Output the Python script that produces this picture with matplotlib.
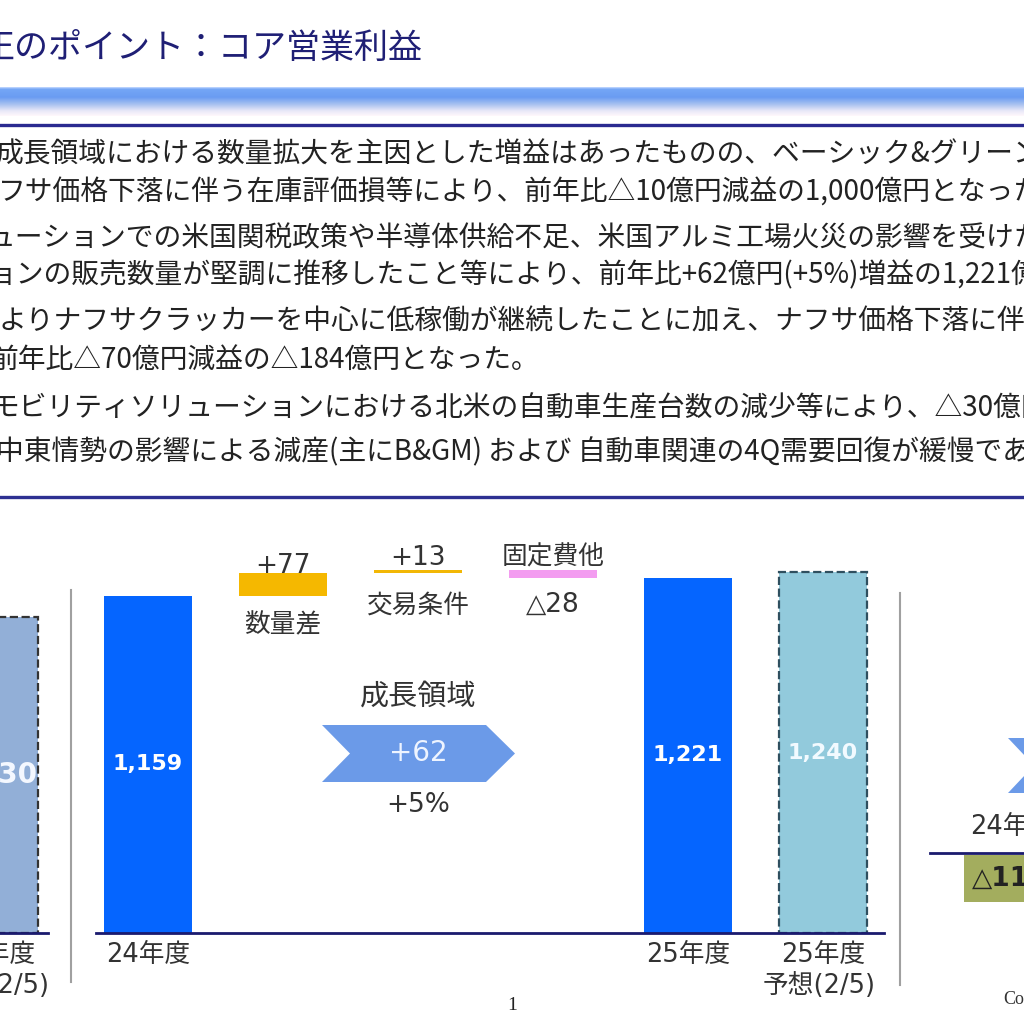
import numpy as np
import matplotlib
matplotlib.use('Agg')
import matplotlib.pyplot as plt
from matplotlib.patches import Polygon
from matplotlib.colors import LinearSegmentedColormap

plt.rcParams['font.family'] = ['Noto Sans CJK JP', 'DejaVu Sans']
NUM_FONT = ['DejaVu Sans', 'Noto Sans CJK JP']

# slide text
title = '正のポイント：コア営業利益'
bullet_lines = [
    '成長領域における数量拡大を主因とした増益はあったものの、ベーシック&グリーンマテリアル',
    'フサ価格下落に伴う在庫評価損等により、前年比△10億円減益の1,000億円となった。',
    'ューションでの米国関税政策や半導体供給不足、米国アルミ工場火災の影響を受けた販売',
    'ョンの販売数量が堅調に推移したこと等により、前年比+62億円(+5%)増益の1,221億円',
    'よりナフサクラッカーを中心に低稼働が継続したことに加え、ナフサ価格下落に伴う在庫評価',
    '前年比△70億円減益の△184億円となった。',
    'モビリティソリューションにおける北米の自動車生産台数の減少等により、△30億円程度',
    '中東情勢の影響による減産(主にB&GM) および 自動車関連の4Q需要回復が緩慢であ',
]

# chart values (億円)
fy24 = 1159
fy25 = 1221
fy25_plan = 1240
step_names = ['数量差', '交易条件', '固定費他']
step_values = [77, 13, -28]
growth_name = '成長領域'
growth_delta = 62
growth_pct = 5
left_value = 1230
left_labels = ['25年度', '予想(2/5)']
main_labels = ['24年度', '25年度', '25年度']
right_caption = '24年度比'
right_delta = '△11'


def fmt(v):
    return '+%d' % v if v > 0 else '△%d' % (-v)


fig = plt.figure(figsize=(10.24, 10.24), dpi=100)
fig.patch.set_facecolor('white')

# bar axes, value 0 sits on the baseline at y=933px
base_px = 933
px_per_unit = 0.291
ax = fig.add_axes([0, (1024 - base_px) / 1024, 1, base_px / 1024], zorder=1)
ax.set_xlim(0, 1024)
ax.set_ylim(0, base_px / px_per_unit)
ax.axis('off')

# left panel uses its own scale
axl = fig.add_axes([0, (1024 - base_px) / 1024, 1, base_px / 1024], zorder=1)
axl.set_xlim(0, 1024)
axl.set_ylim(0, base_px / (316 / left_value))
axl.axis('off')

# pixel overlay for decorations and text
bg = fig.add_axes([0, 0, 1, 1], zorder=2)
bg.patch.set_alpha(0)

# header band
grad = np.linspace(0, 1, 200).reshape(-1, 1)
cmap = LinearSegmentedColormap.from_list('band', [
    (0.0, '#C8DCFF'), (0.07, '#74A6F6'), (0.35, '#6A9CF2'),
    (0.6, '#A9C2F0'), (0.82, '#E8E8F8'), (1.0, '#FFF8FC')])
bg.imshow(grad, extent=(0, 1024, 116, 87), aspect='auto', cmap=cmap, zorder=0)
bg.plot([0, 1024], [125, 125], color='#2A2A90', lw=2.4)
bg.plot([0, 1024], [497, 497], color='#2E3192', lw=2.4)

bg.text(-20, 48, title, fontsize=24.5, color='#1F1F75', va='center', ha='left')

bullet_y = [155, 193, 238, 275, 322, 360, 408, 452]
bullet_x = [-4, -2, -12, -12, -2, -10, -8, -4]
for s, x, y in zip(bullet_lines, bullet_x, bullet_y):
    bg.text(x, y, s, fontsize=20, color='#222222', va='center', ha='left')

# main bars
bar_w = 88
x_main = 148 + 135 * np.array([0, 4, 5])
ax.bar(x_main[:2], [fy24, fy25], width=bar_w, color='#0565FF', zorder=2)
ax.bar(x_main[2], fy25_plan, width=bar_w, color='#92CADC',
       edgecolor='#2F4F5F', linestyle='--', linewidth=1.6, zorder=2)
for x, v, c in zip(x_main, [fy24, fy25, fy25_plan], ['white', 'white', '#F2FAFF']):
    ax.text(x, v / 2, f'{v:,}', ha='center', va='center', color=c,
            fontsize=16, fontweight='bold', family='DejaVu Sans')

# waterfall steps
x_steps = 148 + 135 * np.array([1, 2, 3])
ends = fy24 + np.cumsum(step_values)
starts = ends - np.array(step_values)
step_colors = ['#F5B800', '#F2B705', '#F39CF0']
ax.bar(x_steps, step_values, bottom=starts, width=bar_w, color=step_colors, zorder=2)

# step captions
value_y = [566, 558, 605]
name_y = [625, 606, 558]
for x, v, n, vy, ny in zip(x_steps, step_values, step_names, value_y, name_y):
    bg.text(x, vy, fmt(v), ha='center', va='center', fontsize=19,
            color='#333333', family=NUM_FONT)
    bg.text(x, ny, n, ha='center', va='center', fontsize=18.5, color='#333333')

# left bar (cut by the slide crop)
axl.bar(-6, left_value, width=bar_w, color='#92AFD7', edgecolor='#333333',
        linestyle='--', linewidth=1.6, zorder=2)
axl.text(-6, left_value / 2, f'{left_value:,}', ha='center', va='center',
         color='#F4F8FF', fontsize=20, fontweight='bold', family='DejaVu Sans')
bg.plot([0, 48], [base_px, base_px], color='#1A1A6E', lw=2)
bg.text(-7, 955, left_labels[0], ha='center', va='center', fontsize=18.5,
        color='#333333', family=NUM_FONT)
bg.text(-7, 986, left_labels[1], ha='center', va='center', fontsize=18.5,
        color='#333333', family=NUM_FONT)

# baseline and labels of main chart
bg.plot([96, 884], [base_px, base_px], color='#1A1A6E', lw=2)
for x, lab in zip(x_main, main_labels):
    bg.text(x, 955, lab, ha='center', va='center', fontsize=18.5,
            color='#333333', family=NUM_FONT)
bg.text(x_main[2] - 4, 986, '予想(2/5)', ha='center', va='center', fontsize=18.5,
        color='#333333', family=NUM_FONT)

# growth chevron
chev = Polygon([(322, 725), (486, 725), (515, 753.5), (486, 782),
                (322, 782), (350, 753.5)], closed=True, color='#6B9AE8', lw=0)
bg.add_patch(chev)
bg.text(418, 697, growth_name, ha='center', va='center', fontsize=21, color='#333333')
bg.text(418, 753, fmt(growth_delta), ha='center', va='center', fontsize=20,
        color='#EEF4FF', family=NUM_FONT)
bg.text(418, 805, '+%d%%' % growth_pct, ha='center', va='center', fontsize=19,
        color='#333333', family=NUM_FONT)

# separators
bg.plot([71, 71], [590, 982], color='#A0A0A0', lw=1.5)
bg.plot([900, 900], [593, 985], color='#A0A0A0', lw=1.5)

# right panel fragment
bg.add_patch(Polygon([(1008, 738), (1100, 738), (1100, 793), (1008, 793),
                      (1034, 765.5)], closed=True, color='#6B9AE8', lw=0))
bg.text(970, 827, right_caption, ha='left', va='center', fontsize=18.5,
        color='#333333', family=NUM_FONT)
bg.plot([930, 1024], [853, 853], color='#1A1A6E', lw=2)
bg.add_patch(plt.Rectangle((964, 855), 100, 47, color='#A3AD5E', lw=0))
bg.text(972, 879, right_delta, ha='left', va='center', fontsize=19,
        fontweight='bold', color='#222222', family=NUM_FONT)

# footer
bg.text(512, 1005, '1', ha='center', va='center', fontsize=14,
        color='#222222', family='Liberation Serif')
bg.text(1003, 1000, 'Copyright', ha='left', va='center', fontsize=13,
        color='#333333', family='Liberation Serif')

bg.set_xlim(0, 1024)
bg.set_ylim(1024, 0)
bg.axis('off')

fig.savefig('out.png', dpi=100, facecolor='white')
